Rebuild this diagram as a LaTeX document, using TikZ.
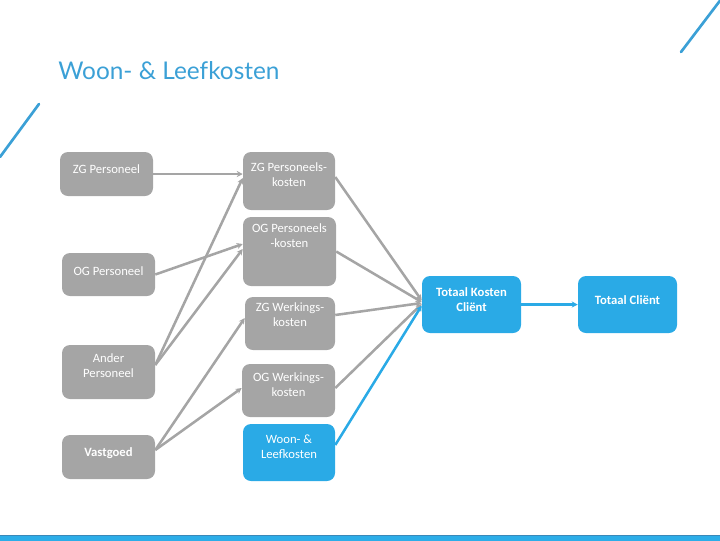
\documentclass[tikz,border=0pt]{standalone}
\usepackage{fontspec}
\setmainfont{Carlito}
\newfontfamily\titlefont[Ligatures=NoCommon]{Lato}
\usetikzlibrary{arrows.meta,calc}
\definecolor{boxgray}{HTML}{A5A5A5}
\definecolor{boxblue}{HTML}{2AAAE6}
\definecolor{titleblue}{HTML}{3BA0D6}
\definecolor{barblue}{HTML}{2CADE8}
\definecolor{bardark}{HTML}{3A88B8}
\tikzset{
  gbox/.style={rectangle, rounded corners=6pt, fill=boxgray, draw=none, inner sep=0pt},
  bbox/.style={gbox, fill=boxblue},
  btext/.style={text=white, font=\fontsize{9.5}{11.25}\selectfont, align=center, inner sep=0pt, anchor=north},
  bfont/.style={font=\bfseries\fontsize{9.5}{11.25}\selectfont},
  conn/.style={draw=boxgray, line width=1.9pt, -{Stealth[length=4.5pt,width=4.5pt]}},
  bconn/.style={conn, draw=boxblue}
}
\begin{document}
\begin{tikzpicture}[x=0.75pt,y=-0.75pt]
\useasboundingbox (0,0) rectangle (720,540);
% decorations
\draw[titleblue, line width=2pt, line cap=round] (0,157) -- (39,104);
\draw[titleblue, line width=2pt, line cap=round] (681,52) -- (722,-2);
\fill[barblue] (0,535) rectangle (720,541);
\draw[bardark, line width=0.75pt] (0,535) -- (720,535);
% title
\node[anchor=base west, text=titleblue, font=\titlefont\fontsize{18.3}{22}\selectfont, inner sep=0pt] (title) at (58,79) {Woon- \& Leefkosten};
% boxes
\node[gbox, minimum width=69.75pt, minimum height=33pt] (zgp) at (106.5,174) {};
\node[gbox, minimum width=69pt, minimum height=43.5pt] (zgpk) at (289,181) {};
\node[gbox, minimum width=69.75pt, minimum height=51.75pt] (ogpk) at (289.5,251.5) {};
\node[gbox, minimum width=69.75pt, minimum height=32.25pt] (ogp) at (108.5,274.5) {};
\node[gbox, minimum width=67.5pt, minimum height=39.75pt] (zgwk) at (290,323.5) {};
\node[gbox, minimum width=69.75pt, minimum height=40.5pt] (ap) at (108.5,372) {};
\node[gbox, minimum width=69.75pt, minimum height=39.75pt] (ogwk) at (288.5,390.5) {};
\node[gbox, minimum width=69.75pt, minimum height=33pt] (vg) at (108.5,457) {};
\node[bbox, minimum width=69pt, minimum height=42.75pt] (wlk) at (289,452.5) {};
\node[bbox, minimum width=74.25pt, minimum height=42.75pt] (tkc) at (471.5,304.5) {};
\node[bbox, minimum width=74.25pt, minimum height=42.75pt] (tc) at (627.5,304.5) {};
% texts
\node[btext] (zgpT) at ([yshift=-9.5pt]zgp.north) {ZG Personeel};
\node[btext] (zgpkT) at ([yshift=-8pt]zgpk.north) {ZG Personeels-\\kosten};
\node[btext] (ogpkT) at ([yshift=-5pt]ogpk.north) {OG Personeels\\-kosten};
\node[btext] (ogpT) at ([yshift=-10.25pt]ogp.north) {OG Personeel};
\node[btext] (zgwkT) at ([yshift=-4.25pt]zgwk.north) {ZG Werkings-\\kosten};
\node[btext] (apT) at ([yshift=-6.5pt]ap.north) {Ander\\Personeel};
\node[btext] (ogwkT) at ([yshift=-6.5pt]ogwk.north) {OG Werkings-\\kosten};
\node[btext, bfont] (vgT) at ([yshift=-9.5pt]vg.north) {Vastgoed};
\node[btext] (wlkT) at ([yshift=-8pt]wlk.north) {Woon- \&\\Leefkosten};
\node[btext, bfont] (tkcT) at ([yshift=-8.75pt]tkc.north) {Totaal Kosten\\Cliënt};
\node[btext, bfont] (tcT) at ([yshift=-14.75pt]tc.north) {Totaal Cliënt};
% connectors
\draw[conn] (zgp.east) -- ($(zgpk.west)+(0,-7)$);
\draw[conn] (ogp.east) -- ($(ogpk.west)+(0,-7.5)$);
\draw[conn] ($(ap.east)+(0,-7)$) -- ($(zgpk.west)+(0,-3)$);
\draw[conn] ($(ap.east)+(0,-7)$) -- ($(ogpk.west)+(0,-2.5)$);
\draw[conn] ($(vg.east)+(0,-7)$) -- ($(zgwk.west)+(0,-5.5)$);
\draw[conn] ($(vg.east)+(0,-7)$) -- ($(ogwk.west)+(0,-2.5)$);
\draw[conn] ($(zgpk.east)+(0,-4)$) -- ($(tkc.west)+(0,-4)$);
\draw[conn] (ogpk.east) -- ($(tkc.west)+(0,-2.5)$);
\draw[conn] ($(zgwk.east)+(0,-8.5)$) -- ($(tkc.west)+(0,-1.5)$);
\draw[conn] ($(ogwk.east)+(0,-2.5)$) -- ($(tkc.west)+(0,-0.5)$);
\draw[bconn] ($(wlk.east)+(0,-7.5)$) -- ($(tkc.west)+(0,1)$);
\draw[bconn] (tkc.east) -- (tc.west);
\end{tikzpicture}
\end{document}
